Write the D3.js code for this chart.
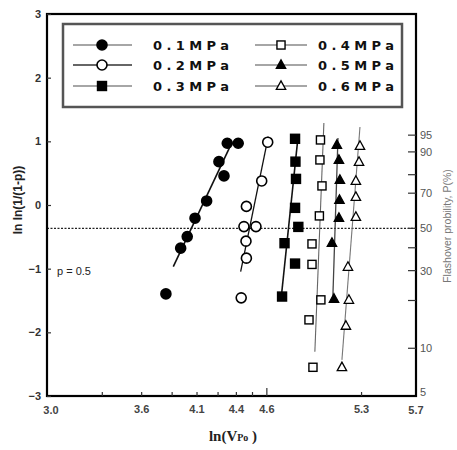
<!DOCTYPE html>
<html>
<head>
<meta charset="utf-8">
<script src="https://cdn.jsdelivr.net/npm/d3@7"></script>
<style>
  html, body { margin: 0; padding: 0; background: #fff; }
  svg { display: block; }
</style>
</head>
<body>
<svg id="chart" width="457" height="450"></svg>
<script>
// Weibull plot: ln ln(1/(1-p)) against ln(V) for six gas pressures
const series = ["0.1MPa", "0.2MPa", "0.3MPa", "0.4MPa", "0.5MPa", "0.6MPa"];
const markers = ["circleFilled", "circleOpen", "squareFilled", "squareOpen", "triFilled", "triOpen"];

const p01X = [3.870, 3.978, 4.026, 4.083, 4.168, 4.258, 4.295, 4.319, 4.399];
const p01Y = [-1.396, -0.678, -0.496, -0.207, 0.064, 0.681, 0.457, 0.970, 0.970];
const p02X = [4.421, 4.459, 4.456, 4.441, 4.529, 4.459, 4.571, 4.615];
const p02Y = [-1.458, -0.835, -0.568, -0.339, -0.339, -0.022, 0.378, 0.986];
const p03X = [4.720, 4.815, 4.738, 4.839, 4.815, 4.822, 4.818, 4.815];
const p03Y = [-1.438, -0.920, -0.600, -0.344, -0.045, 0.410, 0.681, 1.040];
const p04X = [4.946, 4.917, 5.004, 4.939, 4.939, 4.993, 5.012, 4.997, 5.001];
const p04Y = [-2.549, -1.804, -1.490, -0.933, -0.611, -0.171, 0.300, 0.708, 1.022];
const p05X = [5.100, 5.085, 5.136, 5.140, 5.143, 5.136, 5.121];
const p05Y = [-1.474, -0.595, -0.203, 0.080, 0.394, 0.708, 0.943];
const p06X = [5.158, 5.187, 5.209, 5.202, 5.260, 5.260, 5.260, 5.283, 5.290];
const p06Y = [-2.549, -1.898, -1.490, -0.972, -0.187, 0.127, 0.378, 0.677, 0.928];

// fitted straight lines: [x start, x end], [y start, y end]
const fit01X = [3.924, 4.339], fit01Y = [-0.967, 0.917];
const fit02X = [4.417, 4.619], fit02Y = [-1.045, 1.074];
const fit03X = [4.712, 4.836], fit03Y = [-1.492, 1.053];
const fit04X = [4.960, 5.026], fit04Y = [-2.306, 1.289];
const fit05X = [5.092, 5.129], fit05Y = [-1.427, 1.053];
const fit06X = [5.158, 5.290], fit06Y = [-2.432, 1.226];

const xTickValues = [3.401, 3.689, 3.912, 4.094, 4.248, 4.382, 4.500, 4.605, 5.298];
const xTickLabels = ["", "3.6", "", "4.1", "", "4.4", "", "4.6", "5.3"];
const xEndLabels = ["3.0", "5.7"];
const yTickValues = [-3, -2, -1, 0, 1, 2, 3];
const pTickValues = [10, 20, 30, 40, 50, 70, 80, 90, 95];
const pLabelValues = [5, 10, 30, 50, 70, 90, 95];

const pts = [[p01X, p01Y], [p02X, p02Y], [p03X, p03Y], [p04X, p04Y], [p05X, p05Y], [p06X, p06Y]];
const fits = [[fit01X, fit01Y], [fit02X, fit02Y], [fit03X, fit03Y], [fit04X, fit04Y], [fit05X, fit05Y], [fit06X, fit06Y]];

const svg = d3.select("#chart");
const x = d3.scaleLinear().domain([3.0, 5.7]).range([47, 416]);
const y = d3.scaleLinear().domain([-3, 3]).range([396, 14]);
const weib = p => Math.log(-Math.log(1 - p / 100));

const tickFont = "'Liberation Sans', Arial, sans-serif";

// p = 0.5 reference line
svg.append("line")
  .attr("x1", x(3.0)).attr("x2", x(5.7))
  .attr("y1", y(weib(50))).attr("y2", y(weib(50)))
  .attr("stroke", "#222").attr("stroke-width", 1.2)
  .attr("stroke-dasharray", "2,1.5");
svg.append("text").attr("x", 57).attr("y", 275)
  .attr("font-family", tickFont).attr("font-size", 11).attr("fill", "#222")
  .text("p = 0.5");

// fitted lines
const lineColors = ["#111", "#111", "#111", "#666", "#444", "#777"];
const lineWidths = [1.6, 1.3, 1.6, 1.1, 1.3, 1.1];
fits.forEach((f, i) => {
  svg.append("line")
    .attr("x1", x(f[0][0])).attr("y1", y(f[1][0]))
    .attr("x2", x(f[0][1])).attr("y2", y(f[1][1]))
    .attr("stroke", lineColors[i]).attr("stroke-width", lineWidths[i]);
});

function drawMarker(g, type, cx, cy, s) {
  const filled = type.endsWith("Filled");
  const fill = filled ? "#000" : "#fff";
  if (type.startsWith("circle")) {
    g.append("circle").attr("cx", cx).attr("cy", cy).attr("r", s * 0.5)
      .attr("fill", fill).attr("stroke", "#000").attr("stroke-width", 1.6);
  } else if (type.startsWith("square")) {
    g.append("rect").attr("x", cx - s * 0.45).attr("y", cy - s * 0.45)
      .attr("width", s * 0.9).attr("height", s * 0.9)
      .attr("fill", fill).attr("stroke", "#000").attr("stroke-width", 1.4);
  } else {
    const h = s * 0.95;
    g.append("path")
      .attr("d", `M${cx},${cy - h * 0.6}L${cx + h * 0.55},${cy + h * 0.4}L${cx - h * 0.55},${cy + h * 0.4}Z`)
      .attr("fill", fill).attr("stroke", "#000").attr("stroke-width", 1.3);
  }
}

const markSizes = [10, 10, 10, 9, 9, 9];
pts.forEach((p, i) => {
  const g = svg.append("g");
  p[0].forEach((vx, j) => drawMarker(g, markers[i], x(vx), y(p[1][j]), markSizes[i]));
});

// plot frame
svg.append("rect").attr("x", 47).attr("y", 14).attr("width", 369).attr("height", 382)
  .attr("fill", "none").attr("stroke", "#000").attr("stroke-width", 2.2);

// bottom axis with inward ticks
const xAxis = d3.axisBottom(x).tickValues(xTickValues)
  .tickSize(-4).tickPadding(9)
  .tickFormat((d, i) => xTickLabels[i]);
const gx = svg.append("g").attr("transform", `translate(0,${y(-3)})`).call(xAxis);
gx.select(".domain").remove();
gx.selectAll(".tick line").attr("stroke", "#333").attr("stroke-width", 1.2)
  .attr("y2", (d, i) => xTickLabels[i] === "4.6" ? -8 : -4);
gx.selectAll(".tick text").attr("font-family", tickFont).attr("font-size", 11)
  .attr("font-weight", "bold").attr("fill", "#444");
[3.0, 5.7].forEach((v, i) => {
  svg.append("text").attr("x", x(v) + (i === 0 ? 4 : 0)).attr("y", 414)
    .attr("text-anchor", "middle").attr("font-family", tickFont)
    .attr("font-size", 11).attr("font-weight", "bold").attr("fill", "#444")
    .text(xEndLabels[i]);
});

// left axis
const yAxis = d3.axisLeft(y).tickValues(yTickValues).tickSize(-4).tickPadding(6)
  .tickFormat(d3.format("d"));
const gy = svg.append("g").attr("transform", `translate(${x(3.0)},0)`).call(yAxis);
gy.select(".domain").remove();
gy.selectAll(".tick line").attr("stroke", "#333").attr("stroke-width", 1.2);
gy.selectAll(".tick text").attr("font-family", tickFont).attr("font-size", 11)
  .attr("font-weight", "bold").attr("fill", "#333");

// right probability axis
const gr = svg.append("g");
gr.selectAll("line.pt").data(pTickValues).join("line")
  .attr("x1", x(5.7) - 8).attr("x2", x(5.7))
  .attr("y1", d => y(weib(d))).attr("y2", d => y(weib(d)))
  .attr("stroke", "#333").attr("stroke-width", 1.2);
gr.selectAll("text").data(pLabelValues).join("text")
  .attr("x", x(5.7) + 4).attr("y", d => Math.min(y(weib(d)), 392) + 4)
  .attr("font-family", tickFont).attr("font-size", 11).attr("fill", "#555")
  .text(d => d);

// axis titles
svg.append("text")
  .attr("transform", "translate(22,200) rotate(-90)")
  .attr("text-anchor", "middle").attr("font-family", tickFont)
  .attr("font-size", 12).attr("font-weight", "bold").attr("fill", "#222")
  .text("ln ln(1/(1-p))");
svg.append("text")
  .attr("transform", "translate(451,226) rotate(-90)")
  .attr("text-anchor", "middle").attr("font-family", tickFont)
  .attr("font-size", 10.5).attr("fill", "#777")
  .text("Flashover probility, P(%)");
const xt = svg.append("text").attr("x", 233).attr("y", 441)
  .attr("text-anchor", "middle").attr("font-family", "'Liberation Serif', serif")
  .attr("font-size", 15).attr("font-weight", "bold").attr("fill", "#222");
xt.append("tspan").text("ln(V");
xt.append("tspan").attr("font-size", 10).text("Po");
xt.append("tspan").text(" )");

// legend
const lg = svg.append("g");
lg.append("rect").attr("x", 63).attr("y", 24).attr("width", 339).attr("height", 83)
  .attr("fill", "#fff").attr("stroke", "#555").attr("stroke-width", 2.5);
const legRows = [45, 65, 86];
const legCols = [{l0: 73, l1: 132, m: 102, t: 153}, {l0: 255, l1: 307, m: 281, t: 318}];
series.forEach((name, i) => {
  const c = legCols[Math.floor(i / 3)], r = legRows[i % 3];
  lg.append("line").attr("x1", c.l0).attr("x2", c.l1).attr("y1", r).attr("y2", r)
    .attr("stroke", i === 1 ? "#333" : "#888").attr("stroke-width", 1.6);
  drawMarker(lg, markers[i], c.m, r, markSizes[i]);
  lg.append("text").attr("x", c.t).attr("y", r + 5)
    .attr("font-family", "'DejaVu Sans', sans-serif").attr("font-weight", "bold")
    .attr("font-size", 13).attr("fill", "#111")
    .attr("textLength", 76).attr("lengthAdjust", "spacing")
    .text(name);
});
</script>
</body>
</html>
